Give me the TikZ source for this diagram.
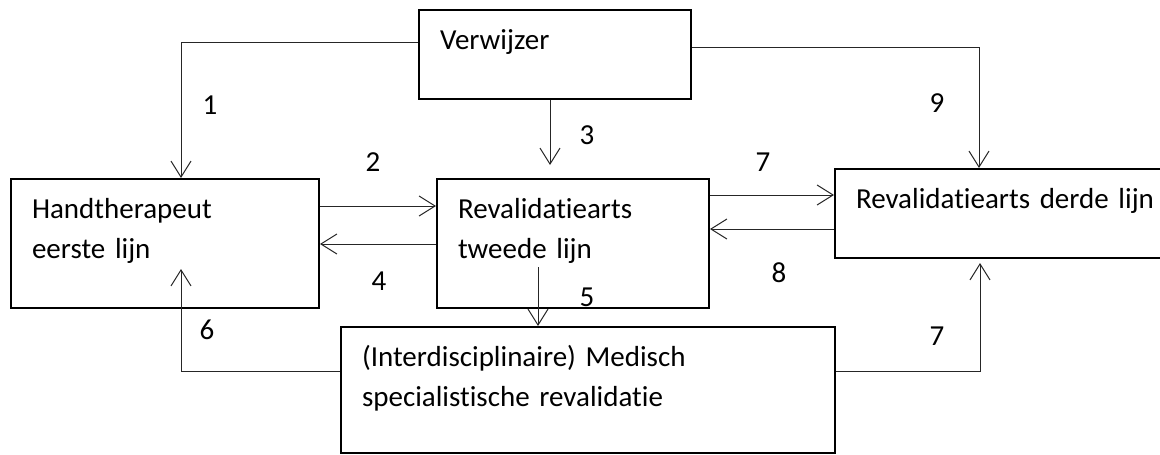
\documentclass[tikz,border=0pt]{standalone}
\usepackage{fontspec}
\setmainfont{Carlito}[Ligatures={NoCommon,NoRequired,NoContextual}]
\usetikzlibrary{arrows.meta,calc}
\newcommand\tinolig{t\kern0pt i}
\begin{document}
\begin{tikzpicture}[x=0.75pt,y=-0.75pt,
  box/.style={draw, line width=1.5pt, rectangle, anchor=north west,
    inner xsep=15.75pt, inner ysep=0pt, align=left,
    font=\fontsize{21.75}{30}\selectfont, text height=29.25pt},
  conn/.style={line width=0.75pt, black!85, -{Straight Barb[length=12pt,width=15pt]}},
  num/.style={font=\fontsize{21.75}{30}\selectfont, inner sep=0pt}]
\useasboundingbox (0,0) rectangle (1160,454);
\fill[white] (0,0) rectangle (1160,454);
\clip (0,0) rectangle (1160,454);

% boxes
\node[box, text width=172.5pt, text depth=37.5pt] (verw) at (418,9) {Verwijzer};
\node[box, text width=199.5pt, text depth=67.5pt] (hand) at (10,178) {Handtherapeut\\eerste lijn};
\node[box, text width=172.5pt, text depth=67.5pt] (reval) at (436,178) {Revalida\tinolig earts\\tweede lijn};
\node[box, text width=224.25pt, text depth=37.5pt] (derde) at (834,168) {Revalida\tinolig earts derde lijn};
\node[box, text width=339pt, text depth=65.25pt] (msr) at (340,326) {(Interdisciplinaire) Medisch\\specialis\tinolig sche revalida\tinolig e};

% connectors
\draw[conn] ($(verw.north west)+(0,33)$) -| ($(hand.north west)+(171,0)$);
\draw[conn] ($(verw.south west)+(132,0)$) -- ($(reval.north west)+(114,-13)$);
\draw[conn] ($(verw.north east)+(0,38)$) -| ($(derde.north west)+(145,0)$);
\draw[conn] ($(hand.north east)+(0,28)$) -- ($(reval.north west)+(0,28)$);
\draw[conn] ($(reval.north west)+(0,66)$) -- ($(hand.north east)+(0,66)$);
\draw[conn] ($(reval.north east)+(0,17)$) -- ($(derde.north west)+(0,27)$);
\draw[conn] ($(derde.north west)+(0,61)$) -- ($(reval.north east)+(0,51)$);
\draw[conn] ($(reval.north west)+(102,89)$) -- ($(msr.north west)+(198,0)$);
\draw[conn] ($(msr.north west)+(0,45)$) -| ($(hand.north west)+(171,91)$);
\draw[conn] ($(msr.north east)+(0,45)$) -| ($(derde.south west)+(146,4)$);

% labels
\node[num] (n1) at (210,105) {1};
\node[num] (n2) at (373,162) {2};
\node[num] (n3) at (587,135) {3};
\node[num] (n9) at (937,103) {9};
\node[num] (n7a) at (763,162) {7};
\node[num] (n4) at (379,281) {4};
\node[num] (n8) at (779,273) {8};
\node[num] (n5) at (587,297) {5};
\node[num] (n6) at (207,330) {6};
\node[num] (n7b) at (937,336) {7};
\end{tikzpicture}
\end{document}
